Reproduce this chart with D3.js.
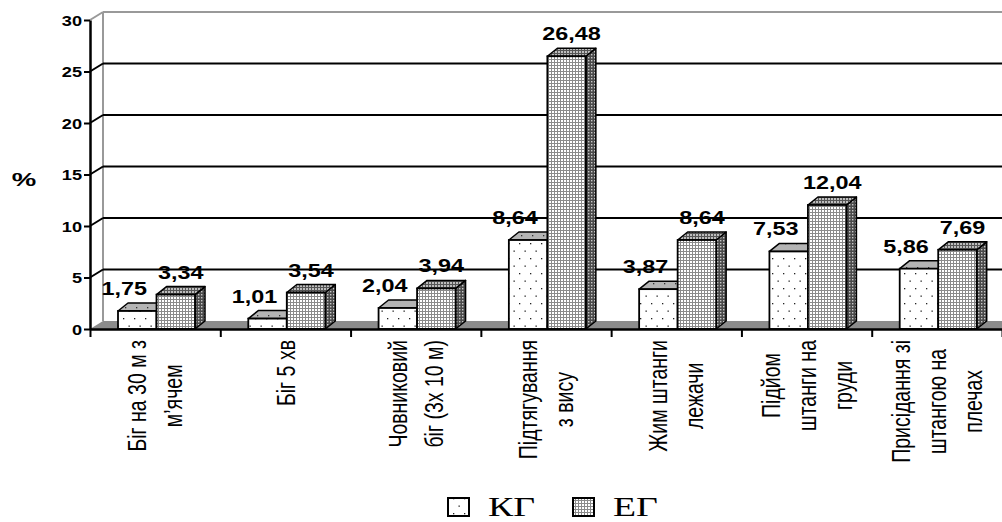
<!DOCTYPE html>
<html>
<head>
<meta charset="utf-8">
<script src="https://cdn.jsdelivr.net/npm/d3@7"></script>
<style>
  html, body { margin: 0; padding: 0; background: #fff; }
  svg { display: block; }
</style>
</head>
<body>
<svg id="chart" width="1002" height="522"></svg>
<script>
// Category labels (each entry is a list of wrapped lines)
const categories = [
  ["Біг на 30 м з", "м’ячем"],
  ["Біг 5 хв"],
  ["Човниковий", "біг (3х 10 м)"],
  ["Підтягування", "з вису"],
  ["Жим штанги", "лежачи"],
  ["Підйом", "штанги на", "груди"],
  ["Присідання зі", "штангою на", "плечах"]
];
const seriesNames = ["КГ", "ЕГ"];
const valuesKG = [1.75, 1.01, 2.04, 8.64, 3.87, 7.53, 5.86];
const valuesEG = [3.34, 3.54, 3.94, 26.48, 8.64, 12.04, 7.69];
const yTicks = [0, 5, 10, 15, 20, 25, 30];
const yTitle = "%";

const svg = d3.select("#chart");
const W = 1002;

// Layout of the pseudo-3D plot
const plot = { left: 90, right: 1002, top: 20, bottom: 329 };
const wall = { dx: 13, dy: -8 };   // depth of back wall / floor
const bar = { dx: 10, dy: -8 };    // depth of each bar
const textStretch = 1.3;

const y = d3.scaleLinear().domain([0, 30]).range([plot.bottom, plot.top]);
const x = d3.scaleBand().domain(d3.range(categories.length)).range([plot.left, plot.right]);
const xEdges = d3.scaleLinear().domain([0, categories.length]).range([plot.left, plot.right]);
const sub = d3.scaleBand().domain(seriesNames).range([28, 105]);

// Fill patterns
const defs = svg.append("defs");
function pattern(id, w, h, bg, draw) {
  const p = defs.append("pattern").attr("id", id).attr("patternUnits", "userSpaceOnUse")
    .attr("width", w).attr("height", h);
  p.append("rect").attr("width", w).attr("height", h).attr("fill", bg);
  draw(p);
}
pattern("kgFront", 11, 15, "#ffffff", p => {
  p.append("rect").attr("x", 2).attr("y", 3).attr("width", 1.3).attr("height", 1.3).attr("fill", "#222");
  p.append("rect").attr("x", 7.5).attr("y", 10.5).attr("width", 1.3).attr("height", 1.3).attr("fill", "#222");
});
pattern("kgTop", 11, 8, "#b4b4b4", p => {
  p.append("rect").attr("x", 4).attr("y", 3).attr("width", 1.3).attr("height", 1.3).attr("fill", "#333");
});
pattern("egFront", 3, 3, "#8a8a8a", p => {
  p.append("rect").attr("x", 0).attr("y", 0).attr("width", 2).attr("height", 2).attr("fill", "#fff");
});
pattern("egTop", 3, 3, "#555", p => {
  p.append("rect").attr("x", 0).attr("y", 0).attr("width", 2).attr("height", 2).attr("fill", "#bdbdbd");
});
pattern("egSide", 3, 3, "#4a4a4a", p => {
  p.append("rect").attr("x", 0).attr("y", 0).attr("width", 1.4).attr("height", 1.4).attr("fill", "#c8c8c8");
});
const fills = {
  "КГ": { front: "url(#kgFront)", top: "url(#kgTop)", side: "#9a9a9a" },
  "ЕГ": { front: "url(#egFront)", top: "url(#egTop)", side: "url(#egSide)" }
};

// Floor
const floorG = svg.append("g");
floorG.append("path")
  .attr("d", `M${plot.left},${y(0)} L${plot.left + wall.dx},${y(0) + wall.dy} L${W + 20},${y(0) + wall.dy} L${W + 20},${y(0)} Z`)
  .attr("fill", "#8c8c8c");

// Back wall outline and gridlines
const wallG = svg.append("g");
wallG.append("line")
  .attr("x1", plot.left + wall.dx).attr("x2", plot.left + wall.dx)
  .attr("y1", y(30) + wall.dy).attr("y2", y(0) + wall.dy)
  .attr("stroke", "#999").attr("stroke-width", 2);
wallG.append("line")
  .attr("x1", plot.left + wall.dx).attr("x2", W + 20)
  .attr("y1", y(30) + wall.dy).attr("y2", y(30) + wall.dy)
  .attr("stroke", "#999").attr("stroke-width", 2);
wallG.append("line")
  .attr("x1", plot.left).attr("x2", plot.left + wall.dx)
  .attr("y1", y(30)).attr("y2", y(30) + wall.dy)
  .attr("stroke", "#999").attr("stroke-width", 2);
wallG.selectAll("line.grid")
  .data(yTicks.filter(v => v > 0 && v < 30))
  .join("line").attr("class", "grid")
  .attr("x1", plot.left + wall.dx).attr("x2", W + 20)
  .attr("y1", d => y(d) + wall.dy).attr("y2", d => y(d) + wall.dy)
  .attr("stroke", "#000").attr("stroke-width", 2);
wallG.selectAll("line.slash")
  .data(yTicks.filter(v => v > 0 && v < 30))
  .join("line").attr("class", "slash")
  .attr("x1", plot.left).attr("x2", plot.left + wall.dx)
  .attr("y1", d => y(d)).attr("y2", d => y(d) + wall.dy)
  .attr("stroke", "#000").attr("stroke-width", 2);

// Bars
const bars = [];
categories.forEach((c, i) => {
  bars.push({ i, s: "КГ", v: valuesKG[i] });
  bars.push({ i, s: "ЕГ", v: valuesEG[i] });
});
const barW = sub.bandwidth();
const barG = svg.append("g");
const bg = barG.selectAll("g.bar").data(bars).join("g").attr("class", "bar");
bg.each(function (d) {
  const g = d3.select(this);
  const x0 = x(d.i) + sub(d.s), x1 = x0 + barW;
  const yt = y(d.v), yb = y(0);
  const f = fills[d.s];
  g.append("path")
    .attr("d", `M${x1},${yt} L${x1 + bar.dx},${yt + bar.dy} L${x1 + bar.dx},${yb + bar.dy} L${x1},${yb} Z`)
    .attr("fill", f.side).attr("stroke", "#000").attr("stroke-width", 1.5).attr("stroke-linejoin", "round");
  g.append("path")
    .attr("d", `M${x0},${yt} L${x0 + bar.dx},${yt + bar.dy} L${x1 + bar.dx},${yt + bar.dy} L${x1},${yt} Z`)
    .attr("fill", f.top).attr("stroke", "#000").attr("stroke-width", 1.5).attr("stroke-linejoin", "round");
  g.append("rect")
    .attr("x", x0).attr("y", yt).attr("width", barW).attr("height", yb - yt)
    .attr("fill", f.front).attr("stroke", "#000").attr("stroke-width", 1.8);
});

// Value labels
const fmt = v => v.toFixed(2).replace(".", ",");
barG.selectAll("text.val").data(bars).join("text").attr("class", "val")
  .attr("transform", d => {
    const cx = x(d.i) + sub(d.s) + barW / 2 + bar.dx / 2 + (d.s === "КГ" ? -18 : 0);
    const cy = y(d.v) + bar.dy - 8;
    return `translate(${cx},${cy}) scale(${textStretch},1)`;
  })
  .attr("text-anchor", "middle")
  .attr("font-family", "'Liberation Sans', Arial, sans-serif")
  .attr("font-weight", "bold").attr("font-size", 18)
  .text(d => fmt(d.v));

// Y axis
const yAxis = svg.append("g").attr("transform", `translate(${plot.left},0)`)
  .call(d3.axisLeft(y).tickValues(yTicks).tickSize(6).tickSizeOuter(0));
yAxis.select(".domain").attr("stroke", "#000").attr("stroke-width", 2.5);
yAxis.selectAll(".tick line").attr("stroke", "#000").attr("stroke-width", 2);
yAxis.selectAll(".tick text")
  .attr("x", null).attr("dy", "0.36em")
  .attr("transform", `translate(-8,0) scale(${textStretch},1)`)
  .attr("font-family", "'Liberation Sans', Arial, sans-serif")
  .attr("font-weight", "bold").attr("font-size", 14).attr("fill", "#000");

// X axis (category boundary ticks)
const xAxis = svg.append("g").attr("transform", `translate(0,${plot.bottom})`)
  .call(d3.axisBottom(xEdges).tickValues(d3.range(categories.length + 1)).tickSize(8).tickSizeOuter(0).tickFormat(""));
xAxis.select(".domain").attr("stroke", "#000").attr("stroke-width", 2.5);
xAxis.selectAll(".tick line").attr("stroke", "#000").attr("stroke-width", 2);

// Category labels, rotated, lines centred along a common top edge
const catG = svg.append("g")
  .attr("font-family", "'Liberation Sans', Arial, sans-serif")
  .attr("font-size", 19.5).attr("fill", "#000");
categories.forEach((lines, i) => {
  const cx = x(i) + x.bandwidth() / 2;
  const n = lines.length;
  const texts = lines.map(t => catG.append("text").text(t).attr("text-anchor", "middle").attr("dy", "0.36em"));
  const maxL = d3.max(texts, t => t.node().getComputedTextLength());
  texts.forEach((t, j) => {
    t.attr("transform", `translate(${cx + (j - (n - 1) / 2) * 36},${340 + maxL / 2}) scale(${textStretch},1) rotate(-90)`);
  });
});

// Y title
svg.append("text")
  .attr("transform", `translate(24,179) scale(1.45,1)`)
  .attr("text-anchor", "middle").attr("dy", "0.36em")
  .attr("font-family", "'Liberation Sans', Arial, sans-serif")
  .attr("font-weight", "bold").attr("font-size", 19)
  .text(yTitle);

// Legend
const legend = svg.append("g");
const legendX = [448, 573];
seriesNames.forEach((s, k) => {
  legend.append("rect")
    .attr("x", legendX[k]).attr("y", 498).attr("width", 21).attr("height", 18)
    .attr("fill", fills[s].front).attr("stroke", "#000").attr("stroke-width", 2);
  legend.append("text")
    .attr("transform", `translate(${legendX[k] + 40},516) scale(1.4,1)`)
    .attr("font-family", "'Liberation Serif', 'Times New Roman', serif")
    .attr("font-size", 27).attr("fill", "#000")
    .text(s);
});
</script>
</body>
</html>
